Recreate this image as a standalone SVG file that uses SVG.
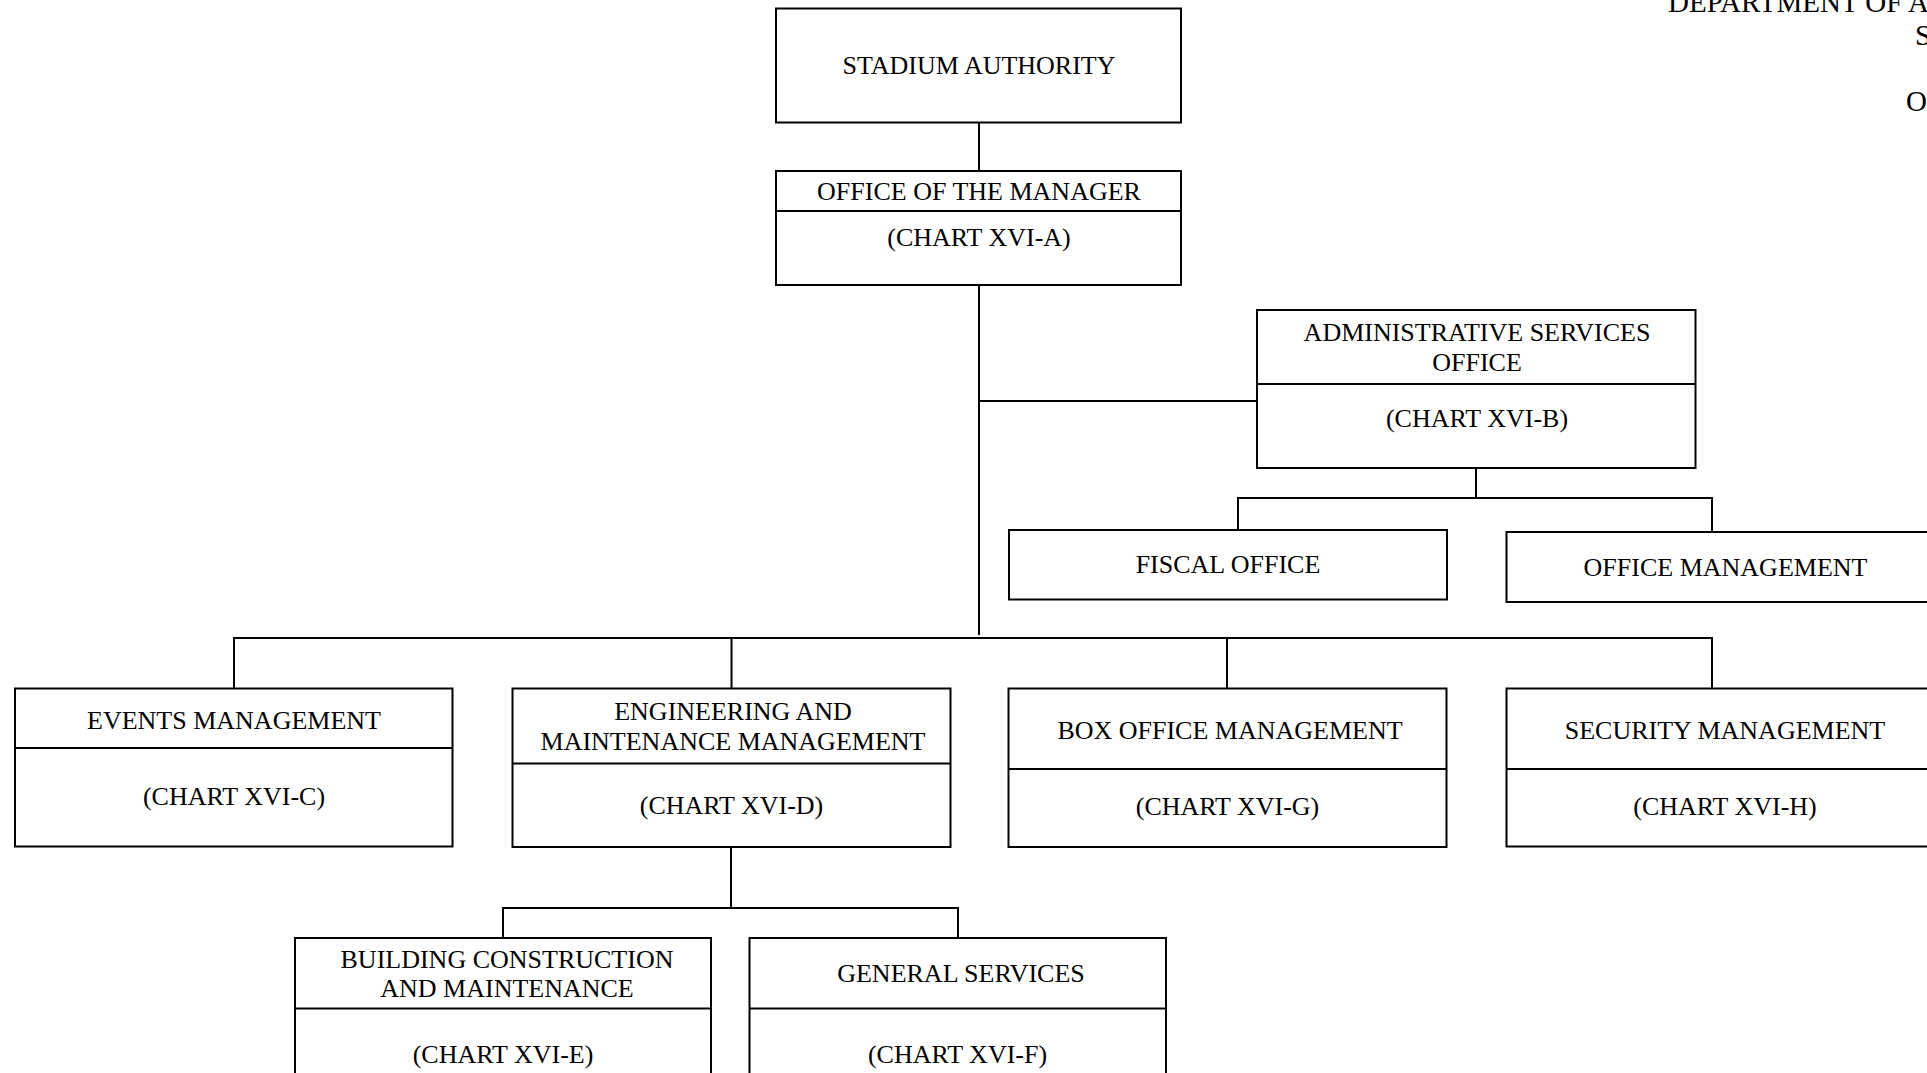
<svg xmlns="http://www.w3.org/2000/svg" width="1927" height="1073" viewBox="0 0 1927 1073">
<style>
.box{fill:#fff;stroke:#000;stroke-width:2}
.div{stroke:#000;stroke-width:2}
.con{fill:none;stroke:#000;stroke-width:2}
text{font-family:"Liberation Serif","Times New Roman",serif;font-size:26px;fill:#000;text-anchor:middle}
.hdr{font-size:29px;text-anchor:start}
</style>
<rect width="1927" height="1073" fill="#fff"/>
<g id="header">
<text class="hdr" x="1668" y="12">DEPARTMENT OF A</text>
<text class="hdr" x="1915" y="45">S</text>
<text class="hdr" x="1906" y="111">O</text>
</g>
<g id="connectors">
<line class="con" x1="979" y1="123" x2="979" y2="171"/>
<line class="con" x1="979" y1="285" x2="979" y2="635"/>
<line class="con" x1="979" y1="401" x2="1257" y2="401"/>
<line class="con" x1="1476" y1="468" x2="1476" y2="498"/>
<polyline class="con" points="1238,530 1238,498 1712,498 1712,532"/>
<polyline class="con" points="234,688 234,638 1712,638 1712,688"/>
<line class="con" x1="731.5" y1="638" x2="731.5" y2="688"/>
<line class="con" x1="1227" y1="638" x2="1227" y2="688"/>
<line class="con" x1="731" y1="847" x2="731" y2="908"/>
<polyline class="con" points="503,938 503,908 958,908 958,938"/>
</g>
<g id="stadium-authority">
<rect class="box" x="776" y="8.5" width="405" height="114"/>
<text x="979" y="74">STADIUM AUTHORITY</text>
</g>
<g id="office-of-the-manager">
<rect class="box" x="776" y="171" width="405" height="114"/>
<line class="div" x1="776" y1="211" x2="1181" y2="211"/>
<text x="979" y="200">OFFICE OF THE MANAGER</text>
<text x="979" y="245.5">(CHART XVI-A)</text>
</g>
<g id="administrative-services-office">
<rect class="box" x="1257" y="310" width="438.5" height="158"/>
<line class="div" x1="1257" y1="384" x2="1695.5" y2="384"/>
<text x="1477" y="341">ADMINISTRATIVE SERVICES</text>
<text x="1477" y="370.5">OFFICE</text>
<text x="1477" y="427">(CHART XVI-B)</text>
</g>
<g id="fiscal-office">
<rect class="box" x="1009" y="530" width="438" height="69.5"/>
<text x="1228" y="573">FISCAL OFFICE</text>
</g>
<g id="office-management">
<rect class="box" x="1506.5" y="532" width="438" height="70"/>
<text x="1725.5" y="576">OFFICE MANAGEMENT</text>
</g>
<g id="events-management">
<rect class="box" x="15" y="688.5" width="437.5" height="158"/>
<line class="div" x1="15" y1="748" x2="452.5" y2="748"/>
<text x="234" y="728.5">EVENTS MANAGEMENT</text>
<text x="234" y="805">(CHART XVI-C)</text>
</g>
<g id="engineering-maintenance-management">
<rect class="box" x="512.5" y="688.5" width="438" height="158.5"/>
<line class="div" x1="512.5" y1="763.5" x2="950.5" y2="763.5"/>
<text x="733" y="720">ENGINEERING AND</text>
<text x="733" y="749.5">MAINTENANCE MANAGEMENT</text>
<text x="731.5" y="813.5">(CHART XVI-D)</text>
</g>
<g id="box-office-management">
<rect class="box" x="1008.5" y="688.5" width="438" height="158.5"/>
<line class="div" x1="1008.5" y1="769" x2="1446.5" y2="769"/>
<text x="1230" y="738.5">BOX OFFICE MANAGEMENT</text>
<text x="1227.5" y="815">(CHART XVI-G)</text>
</g>
<g id="security-management">
<rect class="box" x="1506.5" y="688.5" width="438" height="158"/>
<line class="div" x1="1506.5" y1="769" x2="1944.5" y2="769"/>
<text x="1725" y="738.5">SECURITY MANAGEMENT</text>
<text x="1725" y="815">(CHART XVI-H)</text>
</g>
<g id="building-construction-maintenance">
<rect class="box" x="295" y="938" width="416" height="160"/>
<line class="div" x1="295" y1="1008.5" x2="711" y2="1008.5"/>
<text x="507" y="967.5">BUILDING CONSTRUCTION</text>
<text x="507" y="996.5">AND MAINTENANCE</text>
<text x="503" y="1063">(CHART XVI-E)</text>
</g>
<g id="general-services">
<rect class="box" x="749.5" y="938" width="416.5" height="160"/>
<line class="div" x1="749.5" y1="1008.5" x2="1166" y2="1008.5"/>
<text x="961" y="982">GENERAL SERVICES</text>
<text x="957.5" y="1063">(CHART XVI-F)</text>
</g>
</svg>
